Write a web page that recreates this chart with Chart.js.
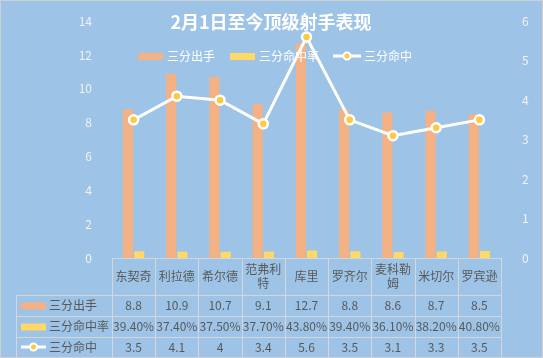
<!DOCTYPE html>
<html><head><meta charset="utf-8">
<script src="https://cdn.jsdelivr.net/npm/chart.js@4"></script>
<style>
html,body{margin:0;padding:0;background:#9DC3E6;}
#wrap{position:relative;width:543px;height:358px;box-sizing:border-box;border:1px solid #D0D0D0;}
canvas{display:block;}
</style></head>
<body><div id="wrap"><canvas id="c" width="541" height="356"></canvas></div>
<script>
const title = '2月1日至今顶级射手表现';
const categories = [['东契奇'],['利拉德'],['希尔德'],['范弗利','特'],['库里'],['罗齐尔'],['麦科勒','姆'],['米切尔'],['罗宾逊']];
const seriesNames = ['三分出手','三分命中率','三分命中'];
const attempts = [8.8,10.9,10.7,9.1,12.7,8.8,8.6,8.7,8.5];
const pctValues = [39.40,37.40,37.50,37.70,43.80,39.40,36.10,38.20,40.80];
const made = [3.5,4.1,4,3.4,5.6,3.5,3.1,3.3,3.5];
const leftTicks = [0,2,4,6,8,10,12,14];
const rightTicks = [0,1,2,3,4,5,6];

const ORANGE='#F4B183', YELLOW='#FFD966', MARK='#FFC93C', GRID='#D6D6D6', TXT='#595959';
const FONT='"Noto Sans CJK SC","Noto Sans",sans-serif';

const tablePlugin = {
  id:'tbl',
  afterDraw(chart){
    const ctx=chart.ctx, ca=chart.chartArea, xs=chart.scales.x;
    const n=categories.length;
    const L=ca.left, R=ca.right, w=(R-L)/n;
    const top=ca.bottom, r1=top+37, r2=r1+21, r3=r2+21, r4=r3+20;
    const firstX=15;
    ctx.save();
    ctx.strokeStyle=GRID; ctx.lineWidth=1;
    ctx.beginPath();
    // horizontal lines
    ctx.moveTo(L,top+0.5); ctx.lineTo(R,top+0.5);
    [r1,r2,r3,r4].forEach(y=>{ctx.moveTo(firstX,y+0.5);ctx.lineTo(R,y+0.5);});
    // vertical lines
    for(let i=0;i<=n;i++){const x=Math.round(L+i*w)+0.5; ctx.moveTo(x,top); ctx.lineTo(x,r4);}
    ctx.moveTo(firstX+0.5,r1); ctx.lineTo(firstX+0.5,r4);
    ctx.stroke();
    ctx.fillStyle=TXT; ctx.textAlign='center'; ctx.textBaseline='middle';
    ctx.font='12px '+FONT;
    categories.forEach((c,i)=>{
      const cx=L+(i+0.5)*w;
      if(c.length===1){ctx.fillText(c[0],cx,(top+r1)/2);}
      else{ctx.fillText(c[0],cx,(top+r1)/2-7);ctx.fillText(c[1],cx,(top+r1)/2+7);}
      ctx.fillText(String(attempts[i]),cx,(r1+r2)/2);
      ctx.fillText(pctValues[i].toFixed(2)+'%',cx,(r2+r3)/2);
      ctx.fillText(String(made[i]),cx,(r3+r4)/2);
    });
    // legend keys in table
    ctx.textAlign='left';
    const rows=[(r1+r2)/2,(r2+r3)/2,(r3+r4)/2];
    ctx.fillStyle=ORANGE; ctx.fillRect(20,rows[0]-3,25,7);
    ctx.fillStyle=YELLOW; ctx.fillRect(20,rows[1]-3,25,7);
    ctx.strokeStyle='#fff'; ctx.lineWidth=3; ctx.beginPath(); ctx.moveTo(20,rows[2]); ctx.lineTo(45,rows[2]); ctx.stroke();
    ctx.beginPath(); ctx.arc(32.5,rows[2],3.5,0,Math.PI*2); ctx.fillStyle=MARK; ctx.fill(); ctx.lineWidth=2; ctx.stroke();
    ctx.fillStyle=TXT;
    seriesNames.forEach((s,i)=>ctx.fillText(s,48,rows[i]));
    // top legend
    const ly=55;
    ctx.fillStyle=ORANGE; ctx.fillRect(137,ly-3,25,7);
    ctx.fillStyle=YELLOW; ctx.fillRect(229,ly-3,25,7);
    ctx.strokeStyle='#fff'; ctx.lineWidth=3; ctx.beginPath(); ctx.moveTo(332,ly); ctx.lineTo(360,ly); ctx.stroke();
    ctx.beginPath(); ctx.arc(346,ly,3.5,0,Math.PI*2); ctx.fillStyle=MARK; ctx.fill(); ctx.lineWidth=2; ctx.stroke();
    ctx.fillStyle='#fff'; ctx.font='12px '+FONT;
    ctx.fillText(seriesNames[0],166,ly);
    ctx.fillText(seriesNames[1],258,ly);
    ctx.fillText(seriesNames[2],363,ly);
    // title
    ctx.font='bold 18px '+FONT; ctx.textAlign='center';
    ctx.fillText(title,270,21);
    ctx.restore();
  }
};

new Chart(document.getElementById('c'),{
  type:'bar',
  data:{
    labels:categories.map(c=>c.join('')),
    datasets:[
      {type:'line',label:seriesNames[2],data:made,yAxisID:'y1',borderColor:'#fff',borderWidth:3,
       pointBackgroundColor:MARK,pointBorderColor:'#fff',pointBorderWidth:2.5,pointRadius:4.5,tension:0,order:0},
      {label:seriesNames[0],data:attempts,backgroundColor:ORANGE,yAxisID:'y',categoryPercentage:0.52,barPercentage:0.9,order:1},
      {label:seriesNames[1],data:pctValues.map(v=>v/100),backgroundColor:YELLOW,yAxisID:'y',categoryPercentage:0.52,barPercentage:0.9,order:1}
    ]
  },
  options:{
    responsive:false,animation:false,
    layout:{padding:{top:7,bottom:99,left:0,right:0}},
    plugins:{legend:{display:false},tooltip:{enabled:false}},
    scales:{
      x:{display:false},
      y:{position:'left',min:0,max:14,afterFit(s){s.width=111;},
         afterBuildTicks(s){s.ticks=leftTicks.map(v=>({value:v}));},
         grid:{display:false},border:{display:false},
         ticks:{color:'#F2F2F2',padding:12,font:{size:12,family:FONT}}},
      y1:{position:'right',min:0,max:6,afterFit(s){s.width=41;},
         afterBuildTicks(s){s.ticks=rightTicks.map(v=>({value:v}));},
         grid:{display:false},border:{display:false},
         ticks:{color:'#F2F2F2',padding:13,font:{size:12,family:FONT}}}
    }
  },
  plugins:[tablePlugin]
});
</script></body></html>
